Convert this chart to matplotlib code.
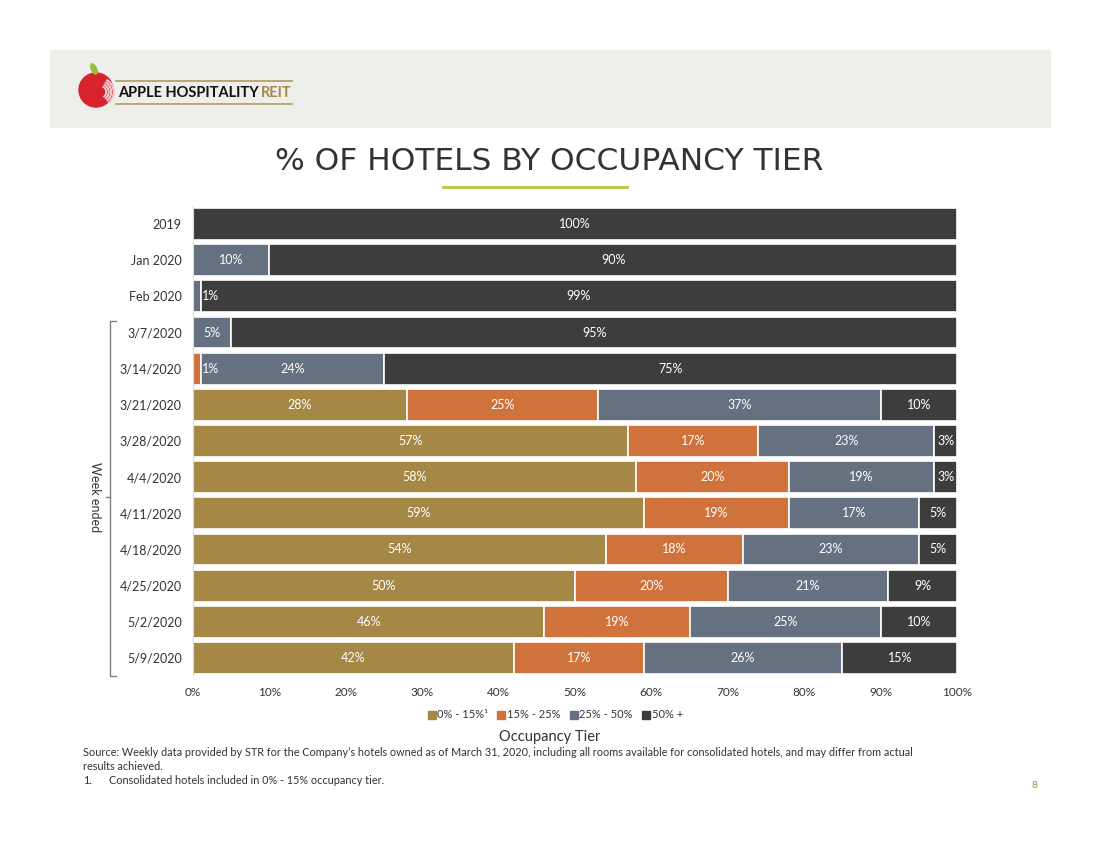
import matplotlib
matplotlib.use("Agg")
import matplotlib.pyplot as plt
from matplotlib.patches import Rectangle, Circle, Ellipse, Wedge
from matplotlib.lines import Line2D

plt.rcParams['font.family'] = ['Lato', 'DejaVu Sans']

#########################################################
# data
periods = ["2019", "Jan 2020", "Feb 2020", "3/7/2020", "3/14/2020", "3/21/2020",
           "3/28/2020", "4/4/2020", "4/11/2020", "4/18/2020", "4/25/2020",
           "5/2/2020", "5/9/2020"]
tier_names = ["0% - 15%\u00b9", "15% - 25%", "25% - 50%", "50% +"]
tier_0_15 = [0, 0, 0, 0, 0, 28, 57, 58, 59, 54, 50, 46, 42]
tier_15_25 = [0, 0, 0, 0, 1, 25, 17, 20, 19, 18, 20, 19, 17]
tier_25_50 = [0, 10, 1, 5, 24, 37, 23, 19, 17, 23, 21, 25, 26]
tier_50_up = [100, 90, 99, 95, 75, 10, 3, 3, 5, 5, 9, 10, 15]
x_ticks = [0, 10, 20, 30, 40, 50, 60, 70, 80, 90, 100]

colors = ["#a58845", "#d0723b", "#657080", "#3d3d3d"]
W, H = 1100, 850


#########################################################
def px(x, y):
    # pixel position -> figure fraction
    return x / W, 1 - y / H


#########################################################
def draw_page(bg):
    bg.set_xlim(0, W)
    bg.set_ylim(H, 0)
    bg.axis('off')
    # header band
    bg.add_patch(Rectangle((50, 50), 1000, 77, color="#eeeeea", zorder=0))
    # logo
    bg.add_patch(Circle((96, 90), 17, color="#d8232f", zorder=1))
    for k in range(4):
        bg.add_patch(Wedge((100, 92), 14 - 2.5 * k, -60, 50, width=0.6,
                           color="#f4c7ca", zorder=2))
    bg.add_patch(Ellipse((94, 69), 5, 11, angle=-25, color="#9dbb3a", zorder=1))
    bg.plot([116, 292], [81, 81], color="#b09a5e", lw=1.2, zorder=1)
    bg.plot([116, 292], [104, 104], color="#b09a5e", lw=1.2, zorder=1)
    bg.text(118, 93, "APPLE HOSPITALITY ", fontsize=10.5, fontweight='bold',
            color="#111111", va='center', ha='left', zorder=2)
    bg.text(292, 93, "REIT", fontsize=10.5, fontweight='bold',
            color="#a58a4c", va='center', ha='right', zorder=2)
    # title
    bg.text(549, 161, "% OF HOTELS BY OCCUPANCY TIER", fontsize=22.5,
            family=['DejaVu Sans'], color="#333333", ha='center', va='center')
    bg.plot([443, 627], [187, 187], color="#b8c63c", lw=2)
    # week ended bracket
    bg.plot([116, 110, 110, 116], [321, 321, 676, 676], color="#7f7f7f", lw=1)
    bg.plot([106, 110], [497, 497], color="#7f7f7f", lw=1)
    bg.text(95, 497, "Week ended", rotation=-90, fontsize=9, color="#333333",
            ha='center', va='center')
    # axis title + notes
    bg.text(550, 737, "Occupancy Tier", fontsize=10.5, color="#333333",
            ha='center', va='center')
    bg.text(83, 752, "Source: Weekly data provided by STR for the Company\u2019s hotels owned as of "
            "March 31, 2020, including all rooms available for consolidated hotels, and may differ from actual",
            fontsize=7.8, color="#333333", ha='left', va='center')
    bg.text(83, 767, "results achieved.", fontsize=7.8, color="#333333", ha='left', va='center')
    bg.text(83, 781, "1.", fontsize=7.8, color="#333333", ha='left', va='center')
    bg.text(109, 781, "Consolidated hotels included in 0% - 15% occupancy tier.",
            fontsize=7.8, color="#333333", ha='left', va='center')
    bg.text(1035, 785, "8", fontsize=7.5, color="#a58a4c", ha='center', va='center')


#########################################################
def draw_bars(ax):
    series = [tier_0_15, tier_15_25, tier_25_50, tier_50_up]
    ypos = list(range(len(periods)))
    left = [0] * len(periods)
    for vals, name, col in zip(series, tier_names, colors):
        ax.barh(ypos, vals, left=left, height=0.88, color=col, label=name,
                edgecolor="white", linewidth=1.2)
        for i, v in enumerate(vals):
            if v > 0:
                xc = left[i] + v / 2
                if v < 2:
                    xc = left[i] + 2.3
                ax.text(xc, i, "%d%%" % v, color="white", fontsize=9,
                        ha='center', va='center')
        left = [a + b for a, b in zip(left, vals)]

    ax.set_xlim(0, 100)
    ax.set_ylim(len(periods) - 0.5, -0.5)
    ax.set_yticks(ypos)
    ax.set_yticklabels(periods, fontsize=9, color="#333333")
    ax.set_xticks(x_ticks)
    ax.set_xticklabels(["%d%%" % t for t in x_ticks], fontsize=8.5, color="#333333")
    ax.tick_params(length=0)
    ax.tick_params(axis='y', pad=8)
    ax.tick_params(axis='x', pad=8)
    for s in ["top", "right", "bottom"]:
        ax.spines[s].set_visible(False)
    ax.spines["left"].set_color("#d9d9d9")


#########################################################
fig = plt.figure(figsize=(11, 8.5), dpi=100)
fig.patch.set_facecolor("white")
bg = fig.add_axes([0, 0, 1, 1], zorder=-1)
draw_page(bg)

l, b = px(193, 676)
r, t = px(957, 206)
ax = fig.add_axes([l, b, r - l, t - b])
ax.set_facecolor("none")
draw_bars(ax)

handles = [Line2D([], [], marker='s', linestyle='none', markersize=6,
                  markerfacecolor=c, markeredgecolor=c) for c in colors]
lx, ly = px(555, 715)
fig.legend(handles, tier_names, loc='center', bbox_to_anchor=(lx, ly), ncol=4,
           frameon=False, fontsize=8, handletextpad=0.1, columnspacing=0.8,
           handlelength=0.8, labelcolor="#333333")

fig.savefig("out.png", dpi=100)
print("finished.")
